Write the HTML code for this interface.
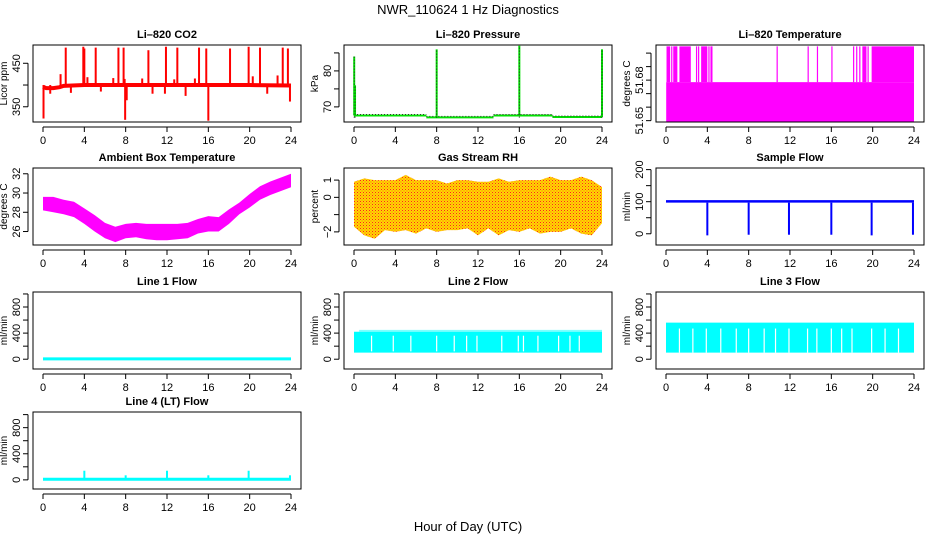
<!DOCTYPE html>
<html><head><meta charset="utf-8">
<style>
body{margin:0;background:#fff;}
svg{display:block;font-family:"Liberation Sans",sans-serif;}
</style></head>
<body>
<svg id="fig" width="936" height="540" viewBox="0 0 936 540">
<defs>
<pattern id="rhdots" width="3" height="3" patternUnits="userSpaceOnUse">
<rect width="3" height="3" fill="#ffd800"/><rect x="0" y="0" width="1" height="1" fill="#ff2020"/><rect x="1.5" y="1.5" width="1" height="1" fill="#ff6010"/>
</pattern>
</defs>
<text x="468" y="14" font-size="13" text-anchor="middle">NWR_110624  1 Hz Diagnostics</text>
<text x="468" y="531" font-size="13" text-anchor="middle">Hour of Day (UTC)</text>
</svg>
<script>
// ---- data ----
const hours = [0,1,2,3,4,5,6,7,8,9,10,11,12,13,14,15,16,17,18,19,20,21,22,23,24];
const xTicks = [0,4,8,12,16,20,24];
// CO2
const co2BaseX = [0,0.3,1.0,1.6,2.0,4,8,12,16,20,24];
const co2BaseV = [396,393,393,395,398,400,400,400,400,400,399];
const co2SpikeT = [2.2,3.9,4.0,5.1,7.3,7.8,10.2,11.9,13.0,15.1,15.8,18.1,19.9,21.0,23.2,23.7,1.7,4.3,6.8,7.9,9.6,12.7,14.7,20.3,22.7,0.05,7.95,16.0,8.1,10.6,11.8,13.8,0.7,21.7,23.9,2.7,5.6];
const co2SpikeV = [486,488,484,486,486,486,480,488,486,486,484,484,488,486,486,484,425,418,416,414,415,413,415,420,422,323,320,318,365,380,380,375,380,380,362,382,385];
// Pressure
const presSegX0 = [0,7,13.5,19.2];
const presSegX1 = [7,13.5,19.2,24];
const presSegV = [67.6,67.1,67.6,67.2];
const presSpikeT = [0.02,0.1,8.0,16.0,24.0];
const presSpikeV = [84,76,86,87,86];
// Li-820 temperature
const tempLow = 51.6785, tempHigh = 51.705;
const tempHiStart = [0.05,0.5,0.7,1.3,2.9,3.1,3.4,4.1,4.3,10.7,13.7,14.6,16.0,18.1,18.4,18.7,19.0,19.5,19.9];
const tempHiEnd =   [0.4,0.6,1.1,2.4,3.0,3.2,4.0,4.2,4.5,10.75,13.75,14.65,16.1,18.2,18.5,18.8,19.4,19.6,24.0];
// Ambient
const ambLow = [28.2,28.0,27.8,27.5,26.8,26.0,25.3,24.9,25.3,25.4,25.2,25.1,25.1,25.2,25.3,25.8,26.0,26.0,26.8,27.8,28.5,29.3,29.8,30.2,30.6];
const ambHigh =[29.6,29.6,29.3,29.1,28.4,27.7,26.9,26.5,26.8,26.9,26.8,26.8,26.8,26.8,26.9,27.3,27.6,27.5,28.3,29.0,29.9,30.7,31.2,31.6,32.0];
// RH
const rhLow = [-1.7,-2.2,-2.4,-1.9,-2.0,-1.9,-2.1,-1.8,-2.0,-1.9,-1.9,-1.8,-2.2,-1.8,-2.2,-1.9,-2.0,-1.8,-2.1,-2.0,-2.0,-1.8,-2.1,-2.2,-1.5];
const rhHigh = [0.9,1.1,1.0,1.0,1.0,1.3,1.0,1.0,1.0,0.8,1.0,1.0,0.9,0.9,1.1,0.9,1.0,1.0,1.0,1.2,1.0,1.0,1.2,1.0,0.6];
// Sample flow
const sfLow = 97, sfHigh = 105;
const sfDipT = [4.0,8.0,11.9,16.0,19.9,23.9];
const sfDipV = [-5,-3,-3,-3,-5,-3];
// Line flows
const l1Value = 5;
const l2Low = 100, l2High = 420, l2End = 24.0;
const l2GapT = [1.7,3.8,5.5,8.0,9.7,10.9,11.9,14.3,15.9,16.4,17.8,19.8,20.9,21.8];
const l3Low = 100, l3High = 560;
const l3GapT = [1.3,2.6,3.9,5.3,6.8,8.0,9.5,10.6,11.9,13.7,14.6,16.0,17.0,18.0,19.9,21.2,22.5];
const l4Value = 10;
const l4SpikeT = [4.0,8.0,12.0,16.0,19.9,23.9];
const l4SpikeV = [140,70,140,70,140,70];

// ---- layout ----
const svg = document.getElementById('fig');
const NS = 'http://www.w3.org/2000/svg';
const colL = [33,344,656], W = 268;
const rowT = [45,168,292,412], H = 77;
function el(tag, attrs, parent){const e=document.createElementNS(NS,tag);for(const k in attrs)e.setAttribute(k,attrs[k]);(parent||svg).appendChild(e);return e;}

function panel(c, r, name, title, ylab, ylim, yTicks, yLabels){
  const g = el('g',{});
  
  
  const L=colL[c], T=rowT[r];
  const xs = v => L+10 + v/24*(W-20);
  const ys = v => T+H - (v-ylim[0])/(ylim[1]-ylim[0])*H;
  const clip = 'clip'+c+r;
  const cp = el('clipPath',{id:clip},g); el('rect',{x:L,y:T,width:W,height:H},cp);
  const plot = el('g',{'clip-path':'url(#'+clip+')'},g);
  
  
  const t = el('text',{x:L+W/2,y:T-7,'font-size':11,'font-weight':'bold','text-anchor':'middle'},g);
  t.textContent=title;
  
  
  const box = el('rect',{x:L,y:T,width:W,height:H,fill:'none',stroke:'#000','stroke-width':1},g);
  
  
  // x axis
  const xa = el('g',{},g);
  
  
  el('line',{x1:xs(0),x2:xs(24),y1:T+H+5,y2:T+H+5,stroke:'#000'},xa);
  xTicks.forEach(v=>{
    el('line',{x1:xs(v),x2:xs(v),y1:T+H+5,y2:T+H+10,stroke:'#000'},xa);
    const tt=el('text',{x:xs(v),y:T+H+22,'font-size':11,'text-anchor':'middle'},xa); tt.textContent=v;
  });
  // y axis
  const ya = el('g',{},g);
  
  
  el('line',{x1:L-5,x2:L-5,y1:ys(yTicks[0]),y2:ys(yTicks[yTicks.length-1]),stroke:'#000'},ya);
  yTicks.forEach((v,i)=>{
    el('line',{x1:L-10,x2:L-5,y1:ys(v),y2:ys(v),stroke:'#000'},ya);
    if(yLabels[i]!==''){const tt=el('text',{x:L-13,y:ys(v),'font-size':11,'text-anchor':'middle',transform:'rotate(-90 '+(L-13)+' '+ys(v)+')'},ya); tt.textContent=yLabels[i];}
  });
  const yt = el('text',{x:L-26,y:T+H/2,'font-size':10,'text-anchor':'middle',transform:'rotate(-90 '+(L-26)+' '+(T+H/2)+')'},g);
  yt.textContent=ylab;
  
  
  return {plot,xs,ys};
}
function band(p, xsArr, lo, hi, fill, nm){
  let d='M'+xsArr.map((x,i)=>p.xs(x)+','+p.ys(hi[i])).join(' L');
  for(let i=xsArr.length-1;i>=0;i--) d+=' L'+p.xs(xsArr[i])+','+p.ys(lo[i]);
  const e=el('path',{d:d+'Z',fill:fill},p.plot);
  
  
  return e;
}
function vline(p,t,v0,v1,col,w,nm){
  const e=el('line',{x1:p.xs(t),x2:p.xs(t),y1:p.ys(v0),y2:p.ys(v1),stroke:col,'stroke-width':w},p.plot);
  
  
  return e;
}

// CO2
let p = panel(0,0,'co2-panel','Li\u2013820 CO2','Licor ppm',[315,492],[350,400,450],['350','','450']);
co2SpikeT.forEach((t,i)=>vline(p,t,400,co2SpikeV[i],'#ff0000',2,'co2-spike'));
{const e=el('polyline',{points:co2BaseX.map((x,i)=>p.xs(x)+','+p.ys(co2BaseV[i])).join(' '),fill:'none',stroke:'#ff0000','stroke-width':4},p.plot);

}

// Pressure
p = panel(1,0,'pressure-panel','Li\u2013820 Pressure','kPa',[65.8,87.2],[70,75,80,85],['70','','80','']);
presSegV.forEach((v,i)=>{
  const e=el('line',{x1:p.xs(presSegX0[i]),x2:p.xs(presSegX1[i]),y1:p.ys(v),y2:p.ys(v),stroke:'#00e000','stroke-width':2},p.plot);
  
  
  const d=el('line',{x1:p.xs(presSegX0[i]),x2:p.xs(presSegX1[i]),y1:p.ys(v)-1,y2:p.ys(v)-1,stroke:'#333','stroke-width':1,'stroke-dasharray':'1 2'},p.plot);
  
  
});
presSpikeT.forEach((t,i)=>{vline(p,t,presSegV[Math.min(3,Math.floor(t/6.1))],presSpikeV[i],'#00e000',2,'pressure-spike');
  const d=vline(p,t,67,presSpikeV[i],'#222',1,'pressure-spike-dots'); d.setAttribute('stroke-dasharray','1 2');});

// Li-820 temp
p = panel(2,0,'temperature-panel','Li\u2013820 Temperature','degrees C',[51.649,51.706],[51.65,51.66,51.67,51.68,51.69,51.70],['51.65','','','51.68','','']);
{const e=el('rect',{x:p.xs(0.02),y:p.ys(tempLow),width:p.xs(24)-p.xs(0.02),height:p.ys(51.649)-p.ys(tempLow),fill:'#ff00ff'},p.plot);

}
tempHiStart.forEach((s,i)=>{
  const e=el('rect',{x:p.xs(s),y:p.ys(tempHigh),width:Math.max(1.2,p.xs(tempHiEnd[i])-p.xs(s)),height:p.ys(tempLow)-p.ys(tempHigh),fill:'#ff00ff'},p.plot);
  
  
});

// Ambient
p = panel(0,1,'ambient-panel','Ambient Box Temperature','degrees C',[24.6,32.6],[26,28,30,32],['26','28','30','32']);
band(p,hours,ambLow,ambHigh,'#ff00ff','ambient-series');

// RH
p = panel(1,1,'rh-panel','Gas Stream RH','percent',[-2.76,1.7],[-2,-1,0,1],['\u22122','','0','1']);
band(p,hours,rhLow,rhHigh,'url(#rhdots)','rh-series');

// Sample flow
p = panel(2,1,'sample-flow-panel','Sample Flow','ml/min',[-35,205],[0,50,100,150,200],['0','','100','','200']);
band(p,[0,24],[sfLow,sfLow],[sfHigh,sfHigh],'#0000ff','sample-flow-series');
sfDipT.forEach((t,i)=>vline(p,t,sfLow,sfDipV[i],'#0000ff',2,'sample-flow-dip'));

const flowTicks=[0,200,400,600,800,1000], flowLabels=['0','','400','','800',''];
// Line 1
p = panel(0,2,'line1-flow-panel','Line 1 Flow','ml/min',[-150,1030],flowTicks,flowLabels);
{const e=el('line',{x1:p.xs(0),x2:p.xs(24),y1:p.ys(l1Value),y2:p.ys(l1Value),stroke:'#00ffff','stroke-width':3},p.plot);

}
// Line 2
p = panel(1,2,'line2-flow-panel','Line 2 Flow','ml/min',[-150,1030],flowTicks,flowLabels);
band(p,[0,l2End],[l2Low,l2Low],[l2High,l2High],'#00ffff','line2-flow-series');
band(p,[0.5,l2End],[l2High,l2High],[450,450],'#00ffff','line2-flow-top').setAttribute('opacity','0.5');
l2GapT.forEach(t=>vline(p,t,l2Low+20,l2High-60,'#fff',1.2,'line2-gap'));
// Line 3
p = panel(2,2,'line3-flow-panel','Line 3 Flow','ml/min',[-150,1030],flowTicks,flowLabels);
band(p,[0,24],[l3Low,l3Low],[l3High,l3High],'#00ffff','line3-flow-series');
l3GapT.forEach(t=>vline(p,t,l3Low,l3High-90,'#fff',1.2,'line3-gap'));
// Line 4
p = panel(0,3,'line4-flow-panel','Line 4 (LT) Flow','ml/min',[-140,1040],flowTicks,flowLabels);
{const e=el('line',{x1:p.xs(0),x2:p.xs(24),y1:p.ys(l4Value),y2:p.ys(l4Value),stroke:'#00ffff','stroke-width':3},p.plot);

}
l4SpikeT.forEach((t,i)=>vline(p,t,l4Value,l4SpikeV[i],'#00ffff',2,'line4-spike'));
</script>
</body></html>
